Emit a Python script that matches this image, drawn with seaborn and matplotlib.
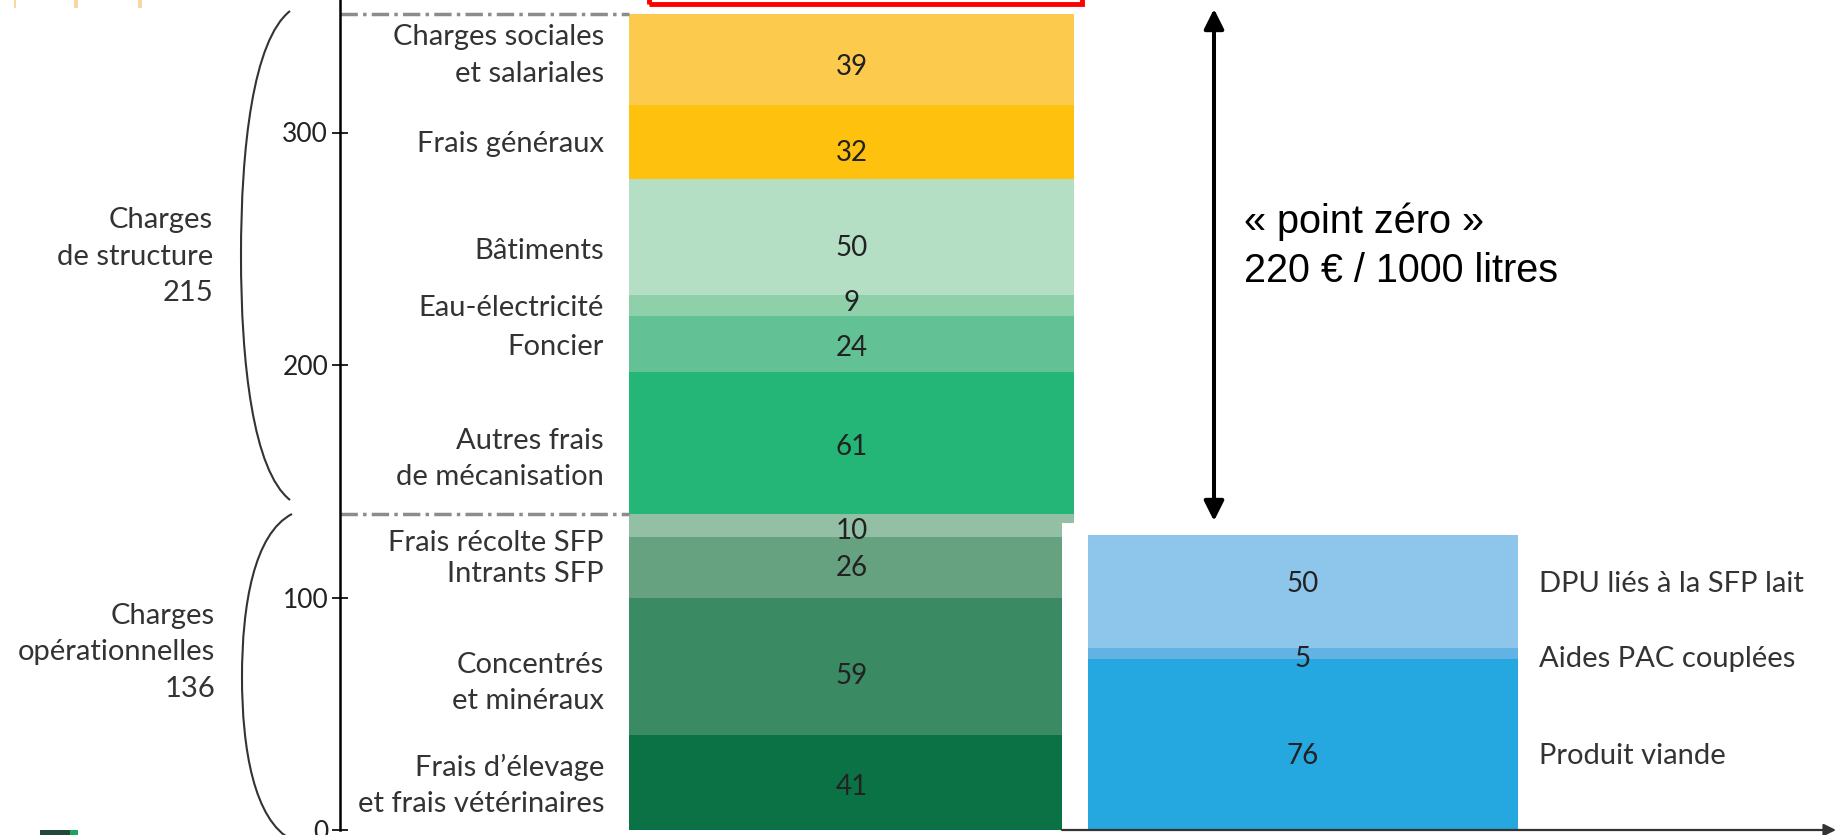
import numpy as np
import pandas as pd
import matplotlib
matplotlib.use("Agg")
import matplotlib.pyplot as plt
import matplotlib.transforms as mtransforms
from matplotlib.patches import FancyArrowPatch, PathPatch, Rectangle
from matplotlib.path import Path
import seaborn as sns

sns.set_theme(style="white")
plt.rcParams["font.family"] = ["Lato", "DejaVu Sans"]

# --- données (en € / 1000 litres) ---
charges_postes = [
    "Frais d’élevage\net frais vétérinaires",
    "Concentrés\net minéraux",
    "Intrants SFP",
    "Frais récolte SFP",
    "Autres frais\nde mécanisation",
    "Foncier",
    "Eau-électricité",
    "Bâtiments",
    "Frais généraux",
    "Charges sociales\net salariales",
]
charges_valeurs = [41, 59, 26, 10, 61, 24, 9, 50, 32, 39]
charges_groupes = ["opérationnelles"] * 4 + ["structure"] * 6

produits_postes = ["Produit viande", "Aides PAC couplées", "DPU liés à la SFP lait"]
produits_valeurs = [76, 5, 50]

yticks = [0, 100, 200, 300]
point_zero = ["« point zéro »", "220 € / 1000 litres"]

# --- styles ---
charges_couleurs = ["#0B7246", "#3A8A63", "#66A27F", "#93C0A4", "#24B677",
                    "#62C195", "#8ED0AA", "#B4DFC5", "#FEC10E", "#FCCB4E"]
produits_couleurs = ["#25A7E0", "#62B2E3", "#8DC5EB"]
# petits décalages verticaux des textes (pixels, + = vers le haut)
nudge_labels = [-3, -17, -7, -18, -16, -3, -2, -14, -2, 4]
nudge_valeurs = [-5, -10, -1, -6, -4, -4, 3, -11, -11, -8]
nudge_produits = [-12, -6, 8]
TXT = "#333333"
FS = 21
LS = 1.5

W, H = 1836, 835


def fx(px):
    return px / W


def fy(py):
    return 1 - py / H


df_c = pd.DataFrame({"poste": charges_postes, "valeur": charges_valeurs,
                     "groupe": charges_groupes})
df_c["cumul"] = df_c["valeur"].cumsum()
df_c["bas"] = df_c["cumul"] - df_c["valeur"]
df_c["barre"] = "Charges"

df_p = pd.DataFrame({"poste": produits_postes, "valeur": produits_valeurs})
df_p["cumul"] = df_p["valeur"].cumsum()
df_p["bas"] = df_p["cumul"] - df_p["valeur"]
df_p["barre"] = "Produits"

fig = plt.figure(figsize=(W / 100, H / 100), dpi=100)
fig.patch.set_facecolor("white")

# axe des charges
y0, scale1 = 830, 2.325
ax1 = fig.add_axes([fx(340), fy(y0), fx(1074) - fx(340), y0 / H])
sns.barplot(data=df_c, x="barre", y="cumul", hue="poste",
            hue_order=charges_postes[::-1],
            palette=dict(zip(charges_postes, charges_couleurs)),
            dodge=False, width=0.8, saturation=1, errorbar=None,
            legend=False, linewidth=0, ax=ax1)
xl1 = -0.4 - (629 - 340) / ((1074 - 629) / 0.8)
ax1.set_xlim(xl1, 0.4)
ax1.set_ylim(0, y0 / scale1)
ax1.set_xlabel("")
ax1.set_ylabel("")
ax1.set_xticks([])
ax1.set_yticks(yticks)
ax1.set_yticklabels([str(t) for t in yticks])
ax1.tick_params(axis="y", left=True, direction="inout", length=11, width=1.4,
                labelsize=19, pad=3, colors="#222222")
for s in ["top", "right", "bottom"]:
    ax1.spines[s].set_visible(False)
ax1.spines["left"].set_color("black")
ax1.spines["left"].set_linewidth(1.8)
ax1.set_facecolor("none")
ax1.set_zorder(1)

total_ope = df_c.loc[df_c["groupe"] == "opérationnelles", "valeur"].sum()
total_struct = df_c.loc[df_c["groupe"] == "structure", "valeur"].sum()
total_charges = total_ope + total_struct
ax1.hlines([total_ope, total_charges], xl1, -0.4, colors="#8c8c8c", lw=2.5,
           linestyles=(0, (5, 1.5, 1, 1.5)), clip_on=False)

for i, r in df_c.iterrows():
    yc = r["bas"] + r["valeur"] / 2
    ax1.annotate(r["poste"], xy=(-0.4, yc), xytext=(-18, nudge_labels[i] * 0.72),
                 textcoords="offset points", ha="right", va="center",
                 fontsize=FS, color=TXT, linespacing=LS)
    ax1.annotate(str(r["valeur"]), xy=(0, yc), xytext=(0, nudge_valeurs[i] * 0.72),
                 textcoords="offset points", ha="center", va="center",
                 fontsize=20, color="#222222")

# libellés des groupes à gauche des accolades
trans = mtransforms.blended_transform_factory(fig.transFigure, ax1.transData)
ax1.annotate(f"Charges\nde structure\n{total_struct}",
             xy=(fx(213), total_ope + total_struct / 2), xycoords=trans,
             xytext=(0, 5), textcoords="offset points",
             ha="right", va="center", fontsize=FS, color=TXT, linespacing=1.5)
ax1.annotate(f"Charges\nopérationnelles\n{total_ope}",
             xy=(fx(215), total_ope / 2), xycoords=trans,
             xytext=(0, 14), textcoords="offset points",
             ha="right", va="center", fontsize=FS, color=TXT, linespacing=1.5)

# axe des produits (encadré blanc en bas à droite)
scale2 = 2.25
ax2 = fig.add_axes([fx(1062), fy(y0), fx(W) - fx(1062), (y0 - 523) / H])
sns.barplot(data=df_p, x="barre", y="cumul", hue="poste",
            hue_order=produits_postes[::-1],
            palette=dict(zip(produits_postes, produits_couleurs)),
            dodge=False, width=0.8, saturation=1, errorbar=None,
            legend=False, linewidth=0, ax=ax2)
ppu = (1518 - 1088) / 0.8
xl2 = -0.4 - (1088 - 1062) / ppu
ax2.set_xlim(xl2, xl2 + (W - 1062) / ppu)
ax2.set_ylim(0, (y0 - 523) / scale2)
ax2.set_xlabel("")
ax2.set_ylabel("")
ax2.set_xticks([])
ax2.set_yticks([])
for s in ax2.spines.values():
    s.set_visible(False)
ax2.set_facecolor("white")
ax2.set_zorder(3)

for i, r in df_p.iterrows():
    yc = r["bas"] + r["valeur"] / 2
    ax2.annotate(str(r["valeur"]), xy=(0, yc), xytext=(0, nudge_produits[i] * 0.72),
                 textcoords="offset points", ha="center", va="center",
                 fontsize=20, color="#222222")
    ax2.annotate(r["poste"], xy=(0.4, yc), xytext=(15, nudge_produits[i] * 0.72),
                 textcoords="offset points", ha="left", va="center",
                 fontsize=FS, color=TXT)

ax2.annotate("", xy=(1, 0), xytext=(0, 0), xycoords="axes fraction",
             arrowprops=dict(arrowstyle="-|>", color="#333333", lw=1.6,
                             mutation_scale=18, shrinkA=0, shrinkB=0))

# flèche « point zéro »
fig.add_artist(FancyArrowPatch((fx(1214), fy(521)), (fx(1214), fy(9)),
                               transform=fig.transFigure, arrowstyle="<|-|>",
                               mutation_scale=30, lw=2.9, color="black",
                               shrinkA=0, shrinkB=0, zorder=5))
fig.text(fx(1244), fy(222), point_zero[0], ha="left", va="center", fontsize=28.5,
         family=["Liberation Sans", "DejaVu Sans"], color="black")
fig.text(fx(1244), fy(271), point_zero[1], ha="left", va="center", fontsize=28.5,
         family=["Liberation Sans", "DejaVu Sans"], color="black")


# accolades
def accolade(y_top, y_bot, x_end, x_mid):
    ym = (y_top + y_bot) / 2
    h = y_bot - y_top
    pts = [(x_end, y_top), (x_mid + 12, y_top + 0.06 * h), (x_mid, y_top + 0.28 * h),
           (x_mid, ym), (x_mid, y_bot - 0.28 * h), (x_mid + 12, y_bot - 0.06 * h),
           (x_end, y_bot)]
    verts = [(fx(a), fy(b)) for a, b in pts]
    codes = [Path.MOVETO] + [Path.CURVE4] * 6
    fig.add_artist(PathPatch(Path(verts, codes), transform=fig.transFigure,
                             fill=False, lw=1.5, ec="#333333"))


accolade(11, 500, 290, 241)
accolade(514, 840, 292, 242)

# restes du cadre de la diapositive
fig.add_artist(Rectangle((fx(649), fy(4)), fx(1082) - fx(649), 30 / H,
                         transform=fig.transFigure, fill=False, ec="#FF0000", lw=3.5))
for x0, w in [(14, 2), (74, 4), (138, 4)]:
    fig.add_artist(Rectangle((fx(x0), fy(8)), w / W, 8 / H, transform=fig.transFigure,
                             fc="#FAD6A2", ec="none"))
fig.add_artist(Rectangle((fx(40), 0), 30 / W, 5 / H, transform=fig.transFigure,
                         fc="#23483A", ec="none"))
fig.add_artist(Rectangle((fx(70), 0), 8 / W, 5 / H, transform=fig.transFigure,
                         fc="#1DA35C", ec="none"))

fig.savefig("out.png", dpi=100, facecolor="white")
